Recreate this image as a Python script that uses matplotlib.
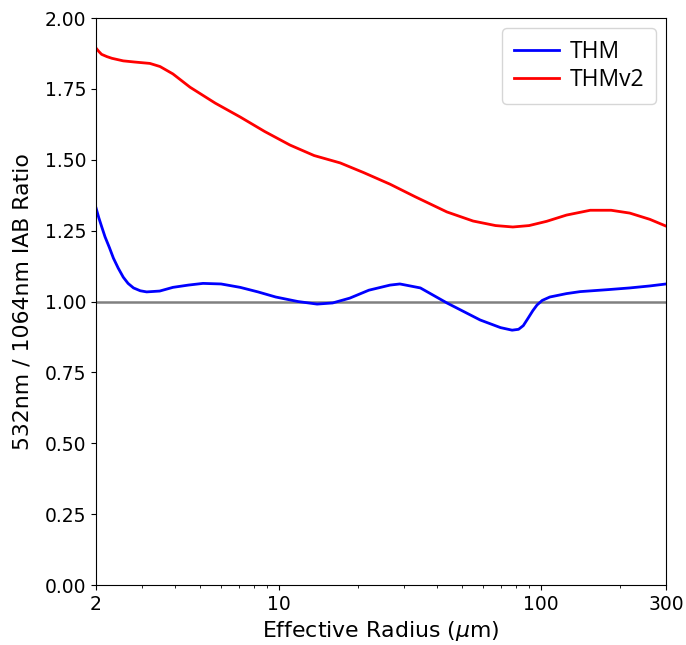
import numpy as np
import matplotlib.pyplot as plt

# values
radius_thm = [2.0, 2.05, 2.1, 2.165, 2.25, 2.33, 2.43, 2.54, 2.65, 2.78, 2.95, 3.12, 3.5,
              3.93, 4.5, 5.12, 6.0, 7.1, 8.3, 9.7, 11.8, 13.96, 16.0, 18.6, 22.0, 26.5,
              28.9, 34.6, 43.7, 58.5, 70.0, 77.5, 82.0, 85.5, 89.0, 93.0, 96.5, 101.0,
              108.0, 125.0, 141.0, 180.0, 218.0, 260.0, 300.0]
ratio_thm = [1.33, 1.295, 1.265, 1.228, 1.19, 1.153, 1.118, 1.086, 1.064, 1.048, 1.038,
             1.034, 1.037, 1.05, 1.058, 1.064, 1.062, 1.05, 1.034, 1.016, 1.0, 0.991,
             0.995, 1.012, 1.04, 1.058, 1.062, 1.048, 0.995, 0.935, 0.908, 0.899, 0.902,
             0.915, 0.94, 0.968, 0.988, 1.004, 1.016, 1.028, 1.035, 1.042, 1.048, 1.055,
             1.062]

radius_thmv2 = [2.0, 2.05, 2.1, 2.2, 2.3, 2.54, 2.8, 3.21, 3.51, 3.93, 4.57, 5.7, 7.1,
                8.8, 11.0, 13.6, 17.1, 21.0, 26.5, 33.0, 43.7, 55.0, 67.0, 78.0, 90.0,
                105.0, 125.0, 154.0, 185.0, 218.0, 260.0, 300.0]
ratio_thmv2 = [1.894, 1.882, 1.872, 1.864, 1.858, 1.849, 1.845, 1.84, 1.829, 1.803, 1.756,
               1.70, 1.651, 1.6, 1.552, 1.515, 1.489, 1.455, 1.414, 1.37, 1.316, 1.284,
               1.268, 1.263, 1.268, 1.283, 1.305, 1.322, 1.322, 1.312, 1.29, 1.266]

xticks = [2, 10, 100, 300]
yticks = [0.0, 0.25, 0.5, 0.75, 1.0, 1.25, 1.5, 1.75, 2.0]

fig = plt.figure(figsize=(6.86, 6.45), dpi=100)
ax = fig.add_axes([0.140, 0.093, 0.831, 0.879])

ax.axhline(1.0, color='gray', lw=1.8)
ax.plot(radius_thm, ratio_thm, color='blue', lw=2, label='THM')
ax.plot(radius_thmv2, ratio_thmv2, color='red', lw=2, label='THMv2')

ax.set_xscale('log')
ax.set_xlim(2, 300)
ax.set_ylim(0, 2)
ax.set_xticks(xticks)
ax.set_xticklabels([str(t) for t in xticks])
ax.set_yticks(yticks)
ax.set_yticklabels(['%.2f' % t for t in yticks])
ax.tick_params(labelsize=13.5)

ax.set_xlabel('Effective Radius ($\\mu$m)', fontsize=15.8, labelpad=4)
ax.set_ylabel('532nm / 1064nm IAB Ratio', fontsize=15.8, labelpad=9)

leg = ax.legend(loc='upper right', prop={'family': 'Open Sans', 'size': 16.5},
                handlelength=2.0, handletextpad=0.45, borderpad=0.5, labelspacing=0.2,
                borderaxespad=0.45)

fig.savefig('out.png', dpi=100)
